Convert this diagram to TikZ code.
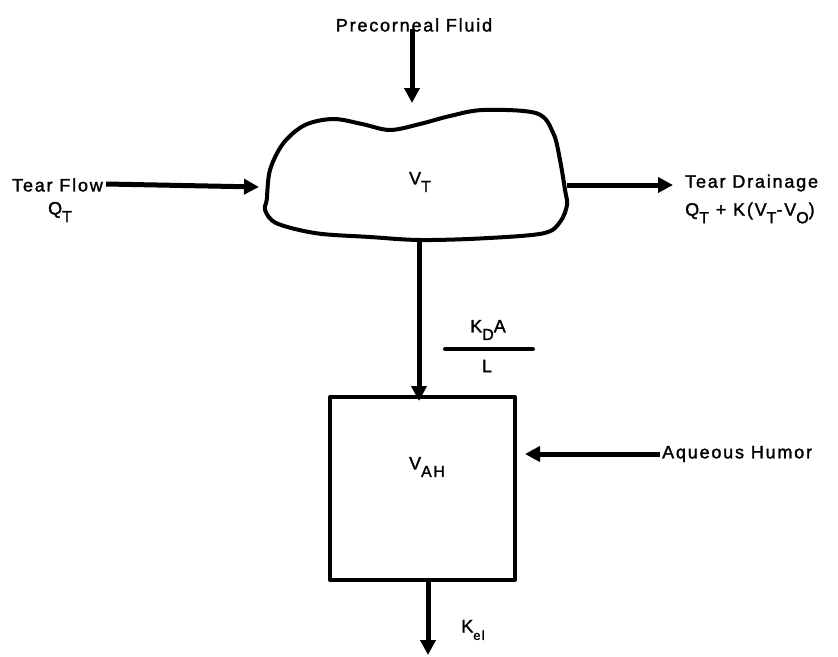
\documentclass[tikz,border=0pt]{standalone}
\usepackage{fontspec}
\newfontfamily\lab[LetterSpace=10,FakeBold=1.6]{Liberation Sans}
\usetikzlibrary{arrows.meta}
\newcommand{\lo}[1]{\raisebox{-0.42em}{\fontsize{16}{18}\selectfont #1}}
\begin{document}
\begin{tikzpicture}[x=1pt,y=-1pt,
  txt/.style={font=\lab\fontsize{18}{20}\selectfont, inner sep=0pt},
  flow/.style={line width=5pt, -{Triangle[length=15pt,width=15pt]}},
  outline/.style={line width=4pt, line join=round}]
\useasboundingbox (0,0) rectangle (838,656);
% blob
\draw[outline] plot[smooth cycle, tension=0.55] coordinates {
 (266.7,200) (270,170) (283.3,143.3) (305,125) (333.3,119) (362,124) (390,130)
 (420,124) (450,116) (483.3,110) (536.7,113.3) (553.3,133.3)
 (560,160) (565,190) (567,205) (560,222) (543.3,233.3) (483.3,238.3)
 (420,240) (370,237) (316.7,233.3) (276.7,223.3) (265,210)};
\node[txt] (vt) at (420,182) {V\lo{T}};
\coordinate (blobW) at (259,187);
\coordinate (blobE) at (567,185);
\coordinate (blobS) at (419,239);
\coordinate (pftip) at (412,103);
% texts
\node[txt] (pf) at (414,25) {Precorneal Fluid};
\node[txt, anchor=west] (tf) at (12,185) {Tear Flow};
\node[txt] (qt) at (60,212) {Q\lo{T}};
\node[txt, anchor=west] (td) at (685,183) {Tear Drainage};
\node[txt, anchor=west] (tdq) at (685,213) {Q\lo{T} + K(V\lo{T}-V\lo{O})};
% box
\node[draw, outline, minimum width=185pt, minimum height=183pt, inner sep=0pt] (ah) at (422.5,488.5) {};
\node[txt] (vah) at (427,467) {V\lo{AH}};
\node[txt, anchor=west] (aq) at (662,454) {Aqueous Humor};
% fraction
\node[txt] (kda) at (488,330) {K\lo{D}A};
\node[txt] (ll) at (487,366) {L};
\coordinate (barL) at (445,349);
\coordinate (barR) at (533,349);
\draw[line width=4pt, line cap=round] (barL) -- (barR);
\node[txt] (kel) at (473,630) {K\lo{\fontsize{13}{14}\selectfont el}};
\coordinate (kout) at (428,655);
% arrows
\draw[flow] ([yshift=3pt]pf.south -| pftip) -- (pftip);
\draw[flow] ([xshift=3pt,yshift=1pt]tf.east) -- (blobW);
\draw[flow] (blobE) -- (673,185);
\draw[flow] (blobS) -- ([yshift=-6pt]blobS |- ah.north);
\draw[flow] ([xshift=-2pt]aq.west) -- ([xshift=8pt]ah.east |- aq.west);
\draw[flow] (ah.south -| kout) -- (kout);
\end{tikzpicture}
\end{document}
